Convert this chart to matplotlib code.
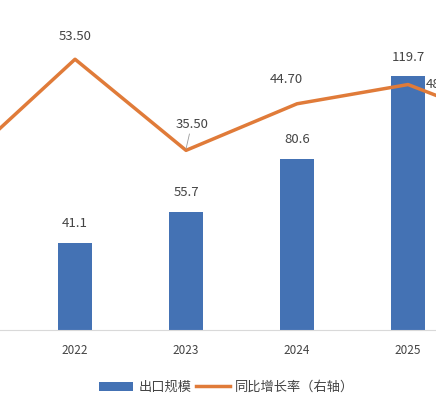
import matplotlib
matplotlib.use("Agg")
import matplotlib.pyplot as plt

plt.rcParams['font.family'] = ['Noto Sans CJK SC', 'DejaVu Sans']

years = ['2021', '2022', '2023', '2024', '2025', '2026']
export = [27.0, 41.1, 55.7, 80.6, 119.7, 160.0]
growth = [33.3, 53.50, 35.50, 44.70, 48.50, 40.0]

fig = plt.figure(figsize=(4.36, 4.08), dpi=100)
ax = fig.add_axes([0, 0.191, 1, 0.809])
ax2 = ax.twinx()
x = list(range(len(years)))
ax.bar(x, export, width=0.31, color='#4472b4', label='出口规模', zorder=2)
ax2.plot(x, growth, color='#e07b39', lw=2.5, label='同比增长率（右轴）', zorder=3)

ax.set_ylim(0, 155.7)
ax2.set_ylim(0, 65.2)
for a in (ax, ax2):
    for s in a.spines.values():
        s.set_visible(False)
    a.set_yticks([])
ax.spines['bottom'].set_visible(True)
ax.spines['bottom'].set_color('#d9d9d9')
ax.set_xticks(x)
ax.set_xticklabels(years, fontsize=8.5, color='#444444')
ax.tick_params(axis='x', length=0, pad=10)

tc = '#444444'
for i in range(1, 5):
    ax.text(i, export[i] + 6, f'{export[i]:.1f}', ha='center', va='bottom', fontsize=9.5, color=tc)
ax2.text(1, growth[1] + 3.2, f'{growth[1]:.2f}', ha='center', va='bottom', fontsize=9.5, color=tc)
ax2.annotate(f'{growth[2]:.2f}', xy=(2, growth[2] + 0.3), xytext=(2.05, growth[2] + 3.8),
             ha='center', va='bottom', fontsize=9.5, color=tc,
             arrowprops=dict(arrowstyle='-', color='#999999', lw=0.6, shrinkA=0, shrinkB=0))
ax2.text(3 - 0.1, growth[3] + 3.5, f'{growth[3]:.2f}', ha='center', va='bottom', fontsize=9.5, color=tc)
ax2.text(4 + 0.16, growth[4], f'{growth[4]:.2f}', ha='left', va='center', fontsize=9.5, color=tc)

for a in (ax, ax2):
    a.set_autoscalex_on(False)
    a.set_xlim(0.324, 4.252)

h1, l1 = ax.get_legend_handles_labels()
h2, l2 = ax2.get_legend_handles_labels()
fig.legend(h1 + h2, l1 + l2, loc='center', bbox_to_anchor=(0.52, 0.05), ncol=2,
           frameon=False, fontsize=9.5, handlelength=2.6, columnspacing=0.3,
           handletextpad=0.4, labelcolor=tc)
fig.savefig('out.png', dpi=100)
